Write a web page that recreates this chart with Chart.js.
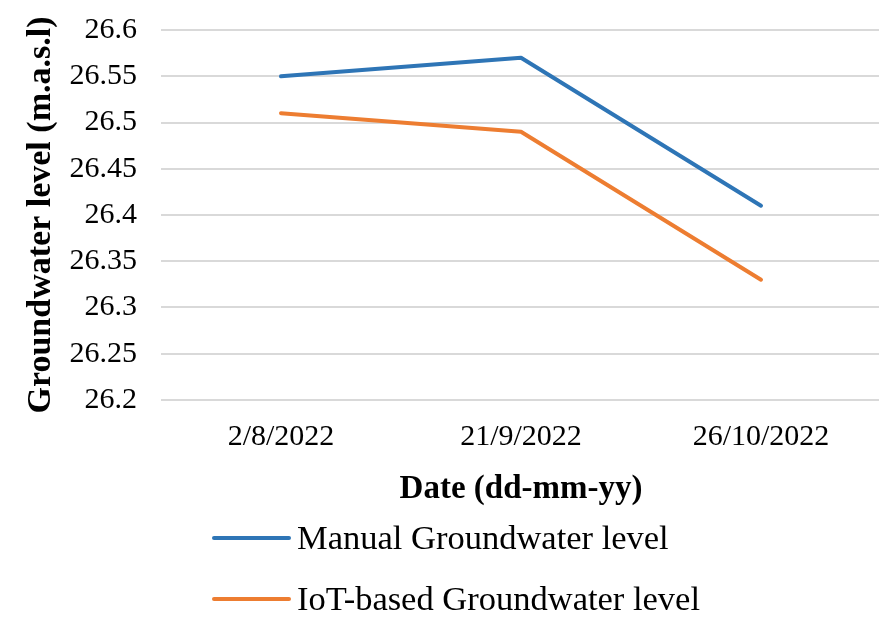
<!DOCTYPE html>
<html>
<head>
<meta charset="utf-8">
<script src="https://cdn.jsdelivr.net/npm/chart.js@4/dist/chart.umd.min.js"></script>
<style>
  html, body { margin: 0; padding: 0; background: #ffffff; overflow: hidden; }
  #wrap { position: relative; width: 881px; height: 617px; }
</style>
</head>
<body>
<div id="wrap"><canvas id="c"></canvas></div>
<script>
// ---- data ----
const categories = ['2/8/2022', '21/9/2022', '26/10/2022'];
const manualLevels = [26.55, 26.57, 26.41];
const iotLevels = [26.51, 26.49, 26.33];
const seriesNames = ['Manual Groundwater level', 'IoT-based Groundwater level'];
const yTicks = [26.2, 26.25, 26.3, 26.35, 26.4, 26.45, 26.5, 26.55, 26.6];
const yAxisTitle = 'Groundwater level (m.a.s.l)';
const xAxisTitle = 'Date (dd-mm-yy)';

const SERIF = "'Liberation Serif', 'Times New Roman', serif";
const TEXT = '#000000';
const BLUE = '#2E75B6';
const ORANGE = '#ED7D31';

const stackedLegend = {
  id: 'stackedLegend',
  afterDraw(chart) {
    const ctx = chart.ctx;
    ctx.save();
    chart.data.datasets.forEach((ds, i) => {
      const y = 538 + i * 61;
      ctx.strokeStyle = ds.borderColor;
      ctx.lineWidth = 4;
      ctx.lineCap = 'round';
      ctx.beginPath();
      ctx.moveTo(214, y);
      ctx.lineTo(289, y);
      ctx.stroke();
      ctx.fillStyle = TEXT;
      ctx.font = "34.5px " + SERIF;
      ctx.textBaseline = 'middle';
      ctx.textAlign = 'left';
      ctx.fillText(ds.label, 297, y + 2);
    });
    ctx.restore();
  }
};

new Chart(document.getElementById('c'), {
  type: 'line',
  data: {
    labels: categories,
    datasets: [
      { label: seriesNames[0], data: manualLevels, borderColor: BLUE, backgroundColor: BLUE,
        borderWidth: 4, pointRadius: 0, tension: 0, borderCapStyle: 'round', borderJoinStyle: 'round' },
      { label: seriesNames[1], data: iotLevels, borderColor: ORANGE, backgroundColor: ORANGE,
        borderWidth: 4, pointRadius: 0, tension: 0, borderCapStyle: 'round', borderJoinStyle: 'round' }
    ]
  },
  options: {
    responsive: true,
    maintainAspectRatio: false,
    animation: false,
    layout: { padding: { top: 30, bottom: 107, left: 0, right: 0 } },
    plugins: { legend: { display: false }, tooltip: { enabled: false } },
    scales: {
      x: {
        offset: true,
        grid: { display: false, drawTicks: false },
        border: { display: false },
        ticks: { color: TEXT, font: { family: SERIF, size: 30 }, padding: 19, maxRotation: 0 },
        title: { display: true, text: xAxisTitle, color: TEXT,
                 font: { family: SERIF, size: 33, weight: 'bold' }, padding: { top: 0, bottom: 1 } },
        afterFit(scale) { scale.height = 110; scale.paddingLeft = 0; scale.paddingRight = 0; }
      },
      y: {
        min: yTicks[0],
        max: yTicks[yTicks.length - 1],
        afterBuildTicks(scale) { scale.ticks = yTicks.map(v => ({ value: v })); },
        grid: { color: '#d9d9d9', lineWidth: 2, drawTicks: false },
        border: { display: false },
        ticks: { color: TEXT, font: { family: SERIF, size: 30 }, padding: 24,
                 callback: (v) => String(Number(v.toFixed(2))) },
        title: { display: true, text: yAxisTitle, color: TEXT,
                 font: { family: SERIF, size: 34, weight: 'bold' }, padding: { top: 21, bottom: 0 } },
        afterFit(scale) { scale.width = 161; scale.paddingTop = 0; scale.paddingBottom = 0; }
      }
    }
  },
  plugins: [stackedLegend]
});
</script>
</body>
</html>
